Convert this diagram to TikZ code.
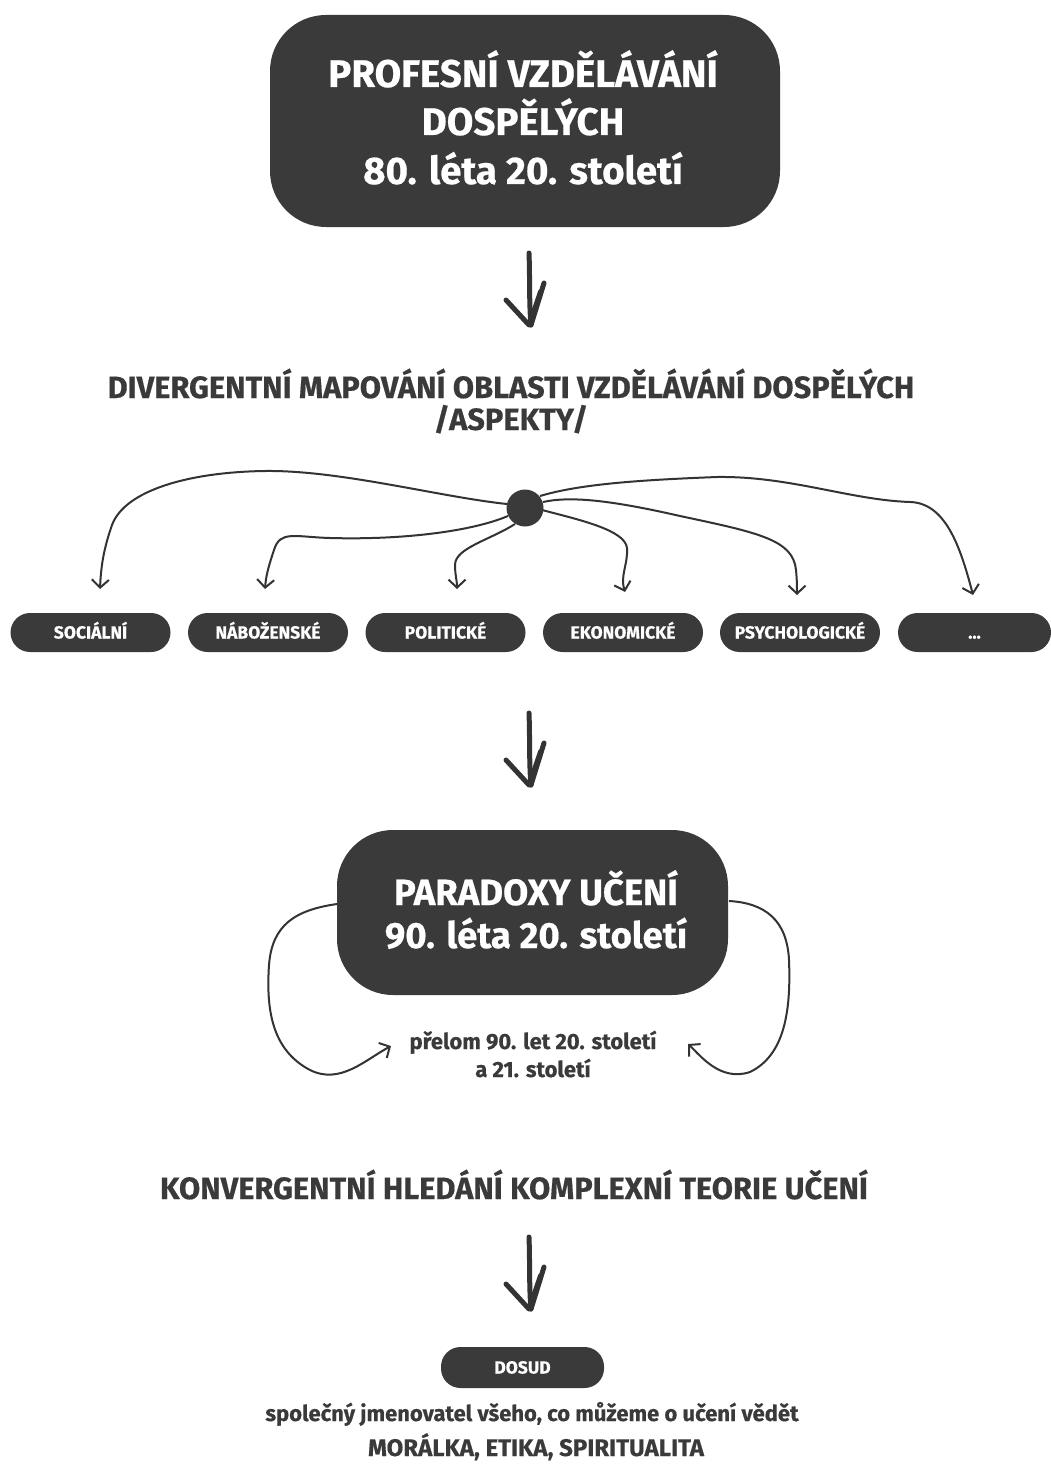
\documentclass[tikz,border=0pt]{standalone}
\usepackage{fontspec}
\setmainfont{Fira Sans}[BoldFeatures={FakeBold=0.5}]
\usetikzlibrary{arrows.meta,calc}

\definecolor{ink}{HTML}{3A3A3A}
\definecolor{line}{HTML}{333333}

\tikzset{
  bigbox/.style={fill=ink, rounded corners=56pt, inner sep=0pt},
  boxtext/.style={text=white, font=\bfseries\fontsize{38.5}{44}\selectfont, anchor=base, inner sep=0pt},
  paratext/.style={text=white, font=\bfseries\fontsize{36.5}{44}\selectfont, anchor=base, inner sep=0pt},
  headtext/.style={text=ink, font=\bfseries\fontsize{30.8}{33}\selectfont, anchor=base, inner sep=0pt},
  pill/.style={fill=ink, rounded corners=19.5pt, minimum width=160pt, minimum height=39pt, inner sep=0pt},
  pilltext/.style={text=white, font=\bfseries\fontsize{17.5}{17.5}\selectfont, anchor=base, inner sep=0pt},
  smalltext/.style={text=ink, font=\bfseries\fontsize{22}{22}\selectfont, anchor=base, inner sep=0pt},
  branch/.style={draw=line, line width=2pt, -{Straight Barb[length=8pt,width=17pt,line width=2pt]}},
  bigstroke/.style={draw=line, line width=5pt, line cap=round},
}

\begin{document}
\begin{tikzpicture}[x=1pt, y=-1pt]
\useasboundingbox (0,0) rectangle (1051,1466);

% --- top block ---
\node[bigbox, minimum width=510pt, minimum height=212pt] (top) at (525,121) {};
\node[boxtext] (topA) at (523,87) {PROFESNÍ VZDĚLÁVÁNÍ};
\node[boxtext] (topB) at (523,135) {DOSPĚLÝCH};
\node[boxtext] (topC) at (523,184) {80. léta 20. století};

% hand-drawn downward arrows
\newcommand{\sketcharrow}[2]{%
  \coordinate (#1-top) at (#2);
  \coordinate (#1-tip) at ($(#2)+(2,72)$);
  \draw[bigstroke] (#1-top) .. controls ($(#1-top)+(1,25)$) and ($(#1-top)+(0,50)$) .. (#1-tip);
  \draw[bigstroke] ($(#1-tip)+(-25,-25)$) -- ($(#1-tip)+(-2,0)$);
  \draw[bigstroke] ($(#1-tip)+(13,-42)$) -- (#1-tip);
  \draw[bigstroke, line width=3.5pt] ($(#1-tip)+(9,-34)$) -- ($(#1-tip)+(-2,-2)$);
}
\sketcharrow{arA}{529,253}

% --- divergent heading ---
\node[headtext] (div1) at (511,398) {DIVERGENTNÍ MAPOVÁNÍ OBLASTI VZDĚLÁVÁNÍ DOSPĚLÝCH};
\node[headtext] (div2) at (511,430) {/ASPEKTY/};

% --- aspects ---
\node[pill] (p1) at (90.5,632.5) {};
\node[pill] (p2) at (268,632.5) {};
\node[pill] (p3) at (445.5,632.5) {};
\node[pill] (p4) at (623,632.5) {};
\node[pill] (p5) at (800,632.5) {};
\node[pill, minimum width=153pt] (p6) at (974.5,632.5) {};
\node[pilltext] (p1t) at (90.5,638.5) {SOCIÁLNÍ};
\node[pilltext] (p2t) at (268,638.5) {NÁBOŽENSKÉ};
\node[pilltext] (p3t) at (445.5,638.5) {POLITICKÉ};
\node[pilltext] (p4t) at (623,638.5) {EKONOMICKÉ};
\node[pilltext] (p5t) at (800,638.5) {PSYCHOLOGICKÉ};
\node[pilltext] (p6t) at (974.5,638.5) {...};

\coordinate (t1) at (100,589);
\coordinate (t2) at (265,589);
\coordinate (t3) at (457,589);
\coordinate (t4) at (625,592);
\coordinate (t5) at (797,595);
\coordinate (t6) at (973,595);

\coordinate (hub) at (525,508);
\draw[branch] (507,504) .. controls (440,497) and (340,470) .. (265,471)
   .. controls (190,472) and (125,490) .. (112,525)
   .. controls (104,548) and (101,565) .. (t1);
\draw[branch] (508,516) .. controls (470,532) and (400,540) .. (330,538)
   .. controls (295,537) and (280,530) .. (274,550)
   .. controls (269,565) and (266,575) .. (t2);
\draw[branch] (515,524) .. controls (490,540) and (455,548) .. (455,565)
   .. controls (455,575) and (457,580) .. (t3);
\draw[branch] (542,510) .. controls (580,520) and (625,530) .. (627,548)
   .. controls (628,565) and (620,575) .. (t4);
\draw[branch] (543,502) .. controls (570,496) and (610,500) .. (680,516)
   .. controls (760,533) and (793,540) .. (796,570)
   .. controls (797,580) and (797,588) .. (t5);
\draw[branch] (540,496) .. controls (580,484) and (640,480) .. (717,477)
   .. controls (790,476) and (850,500) .. (910,502)
   .. controls (945,503) and (960,545) .. (t6);
\node[circle, fill=ink, minimum size=37pt, inner sep=0pt] (hubdot) at (hub) {};

\sketcharrow{arB}{529,713}

% --- paradoxes ---
\node[bigbox, minimum width=391pt, minimum height=165pt] (para) at (532.5,912.5) {};
\node[paratext] (paraA) at (536,905) {PARADOXY UČENÍ};
\node[paratext] (paraB) at (536,948) {90. léta 20. století};

\node[smalltext] (turn1) at (533,1049) {přelom 90. let 20. století};
\node[smalltext] (turn2) at (533,1077) {a 21. století};

\coordinate (lstart) at (337,904);
\coordinate (ltip) at (391,1046);
\coordinate (rstart) at (729,901);
\coordinate (rtip) at (688,1044);
\draw[branch] (lstart) .. controls (295,910) and (272,925) .. (269,965)
   .. controls (266,1010) and (272,1050) .. (310,1070)
   .. controls (340,1085) and (365,1060) .. (ltip);
\draw[branch] (rstart) .. controls (765,903) and (787,920) .. (789,960)
   .. controls (791,1010) and (785,1055) .. (750,1072)
   .. controls (720,1082) and (700,1055) .. (rtip);

% --- convergent heading ---
\node[headtext] (conv) at (514,1199) {KONVERGENTNÍ HLEDÁNÍ KOMPLEXNÍ TEORIE UČENÍ};

\sketcharrow{arC}{529,1237}

% --- present ---
\node[pill, minimum width=163pt, minimum height=41pt] (now) at (522.5,1367.5) {};
\node[pilltext] (nowt) at (522.5,1373.5) {DOSUD};

\node[smalltext] (low1) at (532,1421) {společný jmenovatel všeho, co můžeme o učení vědět};
\node[smalltext, font=\bfseries\fontsize{24}{24}\selectfont] (low2) at (536,1456) {MORÁLKA, ETIKA, SPIRITUALITA};
\end{tikzpicture}
\end{document}
